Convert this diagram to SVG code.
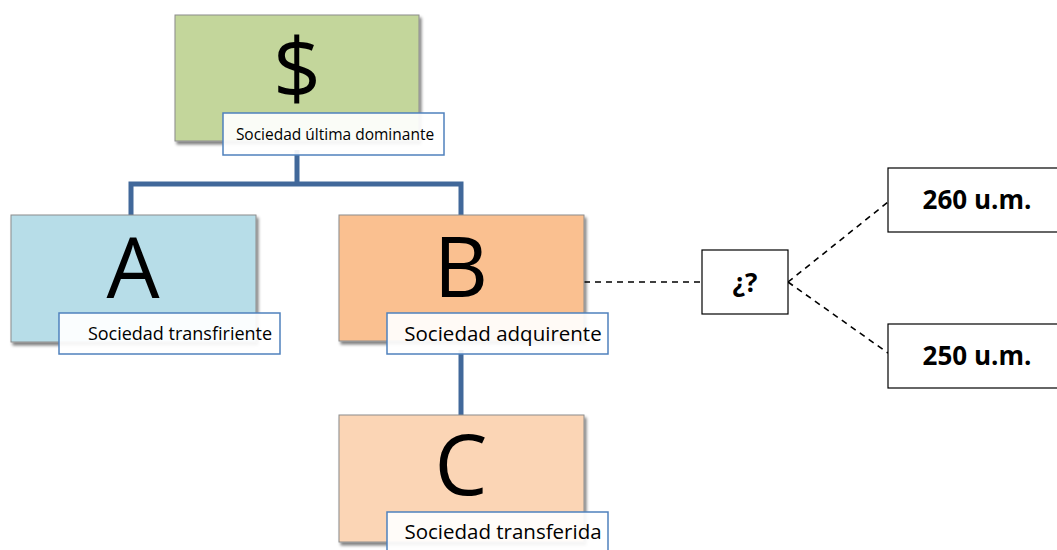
<svg xmlns="http://www.w3.org/2000/svg" width="1057" height="550" viewBox="0 0 1057 550">
<defs>
<filter id="sh" x="-10%" y="-10%" width="130%" height="130%">
<feGaussianBlur in="SourceAlpha" stdDeviation="1.5"/>
<feOffset dx="2" dy="3" result="b"/>
<feComponentTransfer><feFuncA type="linear" slope="0.5"/></feComponentTransfer>
<feMerge><feMergeNode/><feMergeNode in="SourceGraphic"/></feMerge>
</filter>
</defs>
<style>
.box{stroke:#8c8c8c;stroke-width:1;filter:url(#sh)}
.lbl{fill:#ffffff;fill-opacity:0.92;stroke:#4f81bd;stroke-width:1.5}
.big{font-family:"Open Sans","Liberation Sans",sans-serif;font-size:84px;fill:#000;text-anchor:middle}
.lt{font-family:"Open Sans","Liberation Sans",sans-serif;fill:#000;text-anchor:middle}
.val{fill:#fff;stroke:#000;stroke-width:1.2}
.bt{font-family:"Open Sans","Liberation Sans",sans-serif;font-weight:bold;font-size:26px;fill:#000;text-anchor:middle}
.con{fill:none;stroke:#41689a;stroke-width:5}
.dash{fill:none;stroke:#000;stroke-width:1.6;stroke-dasharray:6,5}
</style>
<g id="connectors">
<path class="con" d="M297,150 V184 M131,215 V184 H461 V215"/>
<path class="con" d="M461,350 V415"/>
<path class="dash" d="M584,282 H702"/>
<path class="dash" d="M788,282 L888,202 M788,282 L888,353"/>
</g>
<g id="node-top">
<rect class="box" x="175" y="15" width="244" height="126" fill="#c3d69b"/>
<text class="big" x="297" y="99" font-size="98">$</text>
<rect class="lbl" x="223" y="113" width="221" height="42"/>
<text class="lt" x="335" y="140" font-size="15.5">Sociedad última dominante</text>
</g>
<g id="node-A">
<rect class="box" x="11" y="215" width="245" height="127" fill="#b7dde8"/>
<text class="big" x="133" y="298">A</text>
<rect class="lbl" x="59" y="313" width="221" height="41"/>
<text class="lt" x="180" y="340" font-size="18">Sociedad transfiriente</text>
</g>
<g id="node-B">
<rect class="box" x="339" y="215" width="245" height="126" fill="#fac090"/>
<text class="big" x="461" y="297">B</text>
<rect class="lbl" x="387" y="313" width="221" height="41"/>
<text class="lt" x="503" y="341" font-size="20.5">Sociedad adquirente</text>
</g>
<g id="node-C">
<rect class="box" x="339" y="415" width="245" height="127" fill="#fbd5b5"/>
<text class="big" x="461" y="495">C</text>
<rect class="lbl" x="387" y="512" width="221" height="50"/>
<text class="lt" x="503" y="539" font-size="20.5">Sociedad transferida</text>
</g>
<g id="node-q">
<rect class="val" x="702" y="250" width="86" height="64"/>
<text class="bt" x="745" y="292">¿?</text>
</g>
<g id="node-260">
<rect class="val" x="888" y="168" width="180" height="64"/>
<text class="bt" x="977" y="209">260 u.m.</text>
</g>
<g id="node-250">
<rect class="val" x="888" y="324" width="180" height="64"/>
<text class="bt" x="977" y="365">250 u.m.</text>
</g>
</svg>
